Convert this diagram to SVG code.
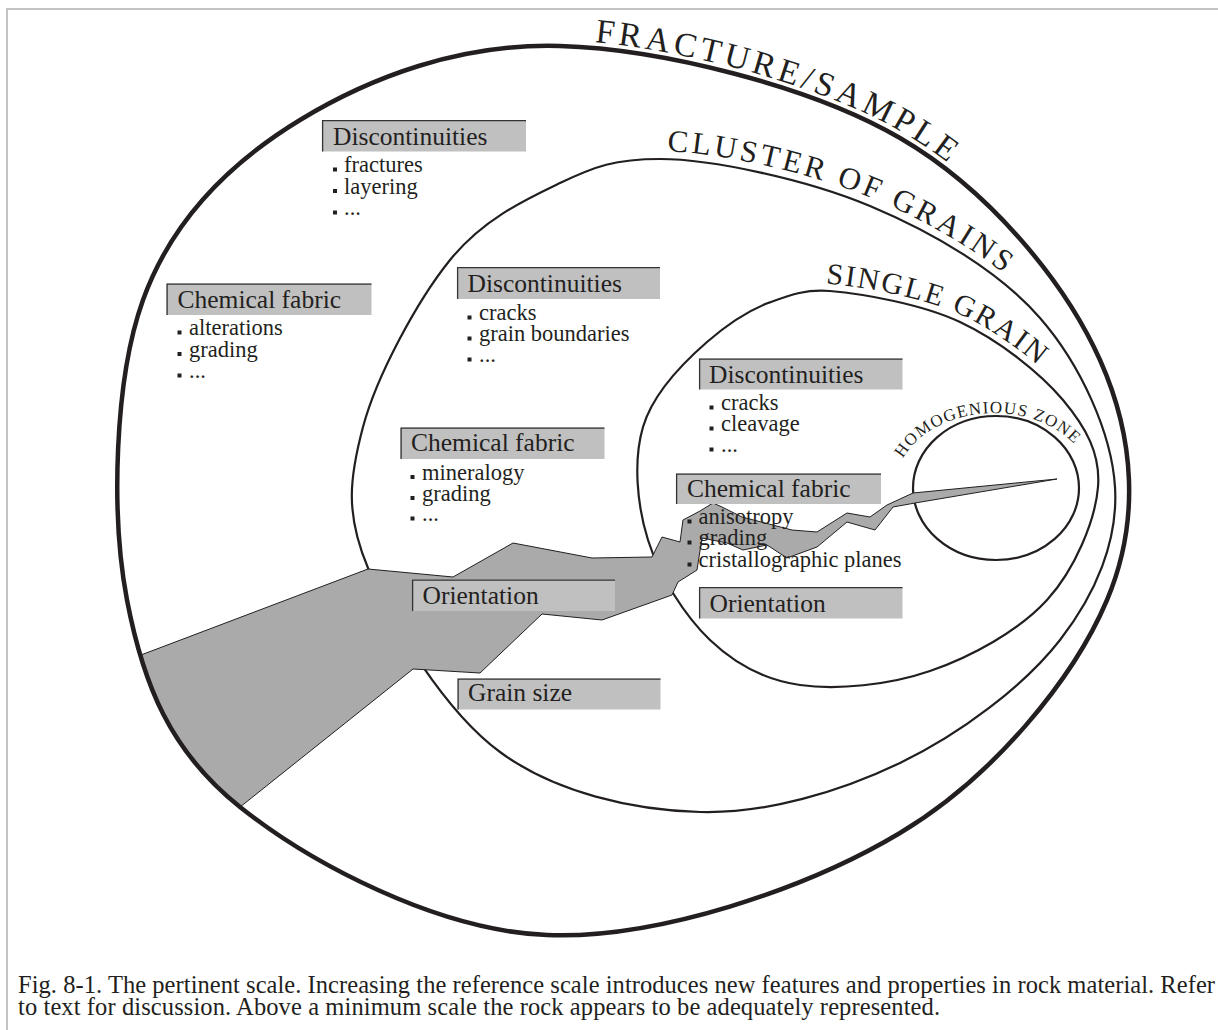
<svg xmlns="http://www.w3.org/2000/svg" width="1218" height="1030" viewBox="0 0 1218 1030">
<style>
text{font-family:"Liberation Serif","Times New Roman",serif;fill:#231f20}
.h{font-size:25.5px}
.i{font-size:22.5px}
.cap{font-size:24.5px}
.ring{fill:none;stroke:#231f20;stroke-width:2.2}
.outer{fill:none;stroke:#231f20;stroke-width:4.5}
.box{fill:#c0c0c0}
.edge{fill:none;stroke:#333;stroke-width:1.3}
.b{fill:#231f20}
.crack{fill:#aaaaaa;stroke:#231f20;stroke-width:1}
</style>
<defs>
<path id="outerPath" d="M560,46 C660,49 810,85.7 900,138 C990,190.3 1065.5,283 1100,360 C1134.5,437 1140.3,521.2 1107,600 C1073.7,678.8 993.3,777.2 900,833 C806.7,888.8 657,939.3 547,935 C437,930.7 310,862.8 240,807 C170,751.2 143.2,684.5 127,600 C110.8,515.5 114.2,380 143,300 C171.8,220 230.5,162.3 300,120 C369.5,77.7 460,43 560,46 Z"/>
<clipPath id="insideOuter"><use href="#outerPath"/></clipPath>
<path id="tpOuter" d="M560,40 C660,43 813,80.5 903,132.8 C993,185.1 1071.5,280 1106,357"/>
<path id="tpCluster" d="M660,151 C711.7,151 809.8,172.1 873.1,198.6 C936.4,225.1 1005.2,265.9 1046,312.7 C1086.8,359.5 1119.7,432.8 1123,486.5"/>
<path id="tpSingle" d="M762.4,298.5 C782.9,290.3 798.1,281.2 830.6,284 C863.1,286.8 924.2,297.5 963,315.7 C1001.8,333.9 1045.4,368 1068.4,395.5 C1091.4,423 1107.7,454.3 1105,487.6"/>
<path id="tpHomog" d="M894,490 A100,77 0 0 1 1094,490"/>
</defs>

<rect width="1218" height="1030" fill="#ffffff"/>
<path d="M7,1030 V9 H1218" fill="none" stroke="#c4c4c4" stroke-width="2"/>

<g id="cluster-of-grains">
<path class="ring" d="M660,159 C711.7,159 806.7,179.5 870,206 C933.3,232.5 999.2,271.2 1040,318 C1080.8,364.8 1111.7,433.3 1115,487 C1118.3,540.7 1095.8,594 1060,640 C1024.2,686 960,734.3 900,763 C840,791.7 766.7,813.8 700,812 C633.3,810.2 555.3,792.7 500,752 C444.7,711.3 390.8,622.2 368,568 C345.2,513.8 349.3,478.3 363,427 C376.7,375.7 417.2,300.7 450,260 C482.8,219.3 525,199.8 560,183 C595,166.2 615,159 660,159 Z"/>
<text style="font-size:31px;letter-spacing:3.4px"><textPath href="#tpCluster" startOffset="7">CLUSTER OF GRAINS</textPath></text>
</g>

<g id="single-grain">
<path class="ring" d="M830,291 C862.5,293.8 921.2,303.8 960,322 C998.8,340.2 1040,372.5 1063,400 C1086,427.5 1100.7,453.7 1098,487 C1095.3,520.3 1075,569.3 1047,600 C1019,630.7 971.2,656.8 930,671 C888.8,685.2 836.7,690.2 800,685 C763.3,679.8 735.3,664.2 710,640 C684.7,615.8 659.2,575.5 648,540 C636.8,504.5 633.2,460.3 643,427 C652.8,393.7 684,362 707,342 C730,322 750,310 768,303 C790,295 805,289 830,291 Z"/>
<text style="font-size:30px;letter-spacing:2px"><textPath href="#tpSingle" startOffset="66">SINGLE GRAIN</textPath></text>
</g>

<g id="homogenious-zone">
<ellipse class="ring" cx="996" cy="488" rx="83" ry="72"/>
<text style="font-size:17px;letter-spacing:1.2px"><textPath href="#tpHomog" startOffset="33">HOMOGENIOUS ZONE</textPath></text>
</g>

<g id="connectors">
<polygon class="crack" clip-path="url(#insideOuter)" points="100,670.5 368,569 453,577 513,543 592,558 652,557 662,537 680,542 683,520 700,511 713,503 722,507 742,517 792,530 817,532 847,513 870,517 887,505 913,493 1057,479 915,503 893,507 875,530 847,522 817,547 787,558 767,545 743,550 727,543 702,538 697,570 678,582 672,595 602,620 542,614 480,673 413,669 200,839"/>
</g>

<g id="fracture-sample">
<use href="#outerPath" class="outer"/>
<text style="font-size:34px;letter-spacing:4px"><textPath href="#tpOuter" startOffset="35">FRACTURE/SAMPLE</textPath></text>
</g>

<g id="outer-discontinuities">
<rect class="box" x="322" y="120" width="204" height="31.5"/>
<path class="edge" d="M322.6,151.5 V120.6 H526"/>
<text class="h" x="333" y="145">Discontinuities</text>
<rect class="b" x="333" y="167.5" width="4" height="4"/><text class="i" x="344" y="172">fractures</text>
<rect class="b" x="333" y="189" width="4" height="4"/><text class="i" x="344" y="193.5">layering</text>
<rect class="b" x="333" y="210.5" width="4" height="4"/><text class="i" x="344" y="215">...</text>
</g>

<g id="outer-chemical-fabric">
<rect class="box" x="166.5" y="283.5" width="205" height="31.5"/>
<path class="edge" d="M167.1,315 V284.1 H371.5"/>
<text class="h" x="177.5" y="307.5">Chemical fabric</text>
<rect class="b" x="177.5" y="330.5" width="4" height="4"/><text class="i" x="189" y="335">alterations</text>
<rect class="b" x="177.5" y="352" width="4" height="4"/><text class="i" x="189" y="356.5">grading</text>
<rect class="b" x="177.5" y="373.5" width="4" height="4"/><text class="i" x="189" y="378">...</text>
</g>

<g id="cluster-discontinuities">
<rect class="box" x="457" y="267" width="203" height="32"/>
<path class="edge" d="M457.6,299 V267.6 H660"/>
<text class="h" x="467.5" y="292.3">Discontinuities</text>
<rect class="b" x="467.5" y="315.5" width="4" height="4"/><text class="i" x="479" y="320">cracks</text>
<rect class="b" x="467.5" y="336.5" width="4" height="4"/><text class="i" x="479" y="341">grain boundaries</text>
<rect class="b" x="467.5" y="357.5" width="4" height="4"/><text class="i" x="479" y="362">...</text>
</g>

<g id="cluster-chemical-fabric">
<rect class="box" x="400.5" y="427.5" width="204" height="31.5"/>
<path class="edge" d="M401.1,459 V428.1 H604.5"/>
<text class="h" x="411" y="451">Chemical fabric</text>
<rect class="b" x="410.5" y="475" width="4" height="4"/><text class="i" x="422" y="479.5">mineralogy</text>
<rect class="b" x="410.5" y="496" width="4" height="4"/><text class="i" x="422" y="500.5">grading</text>
<rect class="b" x="410.5" y="516.5" width="4" height="4"/><text class="i" x="422" y="521">...</text>
</g>

<g id="cluster-orientation">
<rect class="box" x="412" y="579.5" width="203" height="31.5"/>
<path class="edge" d="M412.6,611 V580.1 H615"/>
<text class="h" x="422.5" y="603.5">Orientation</text>
</g>

<g id="cluster-grain-size">
<rect class="box" x="457.5" y="678.5" width="203" height="31"/>
<path class="edge" d="M458.1,709.5 V679.1 H660.5"/>
<text class="h" x="468" y="701">Grain size</text>
</g>

<g id="single-discontinuities">
<rect class="box" x="699" y="358.5" width="203.5" height="31"/>
<path class="edge" d="M699.6,389.5 V359.1 H902.5"/>
<text class="h" x="709" y="383">Discontinuities</text>
<rect class="b" x="709.5" y="405.5" width="4" height="4"/><text class="i" x="721" y="410">cracks</text>
<rect class="b" x="709.5" y="426.5" width="4" height="4"/><text class="i" x="721" y="431">cleavage</text>
<rect class="b" x="709.5" y="447.5" width="4" height="4"/><text class="i" x="721" y="452">...</text>
</g>

<g id="single-chemical-fabric">
<rect class="box" x="676" y="473.5" width="205" height="30.5"/>
<path class="edge" d="M676.6,504 V474.1 H881"/>
<text class="h" x="687" y="497">Chemical fabric</text>
<rect class="b" x="687.5" y="519.5" width="4" height="4"/><text class="i" x="698.5" y="524">anisotropy</text>
<rect class="b" x="687.5" y="540.5" width="4" height="4"/><text class="i" x="698.5" y="545">grading</text>
<rect class="b" x="687.5" y="562.5" width="4" height="4"/><text class="i" x="698.5" y="567">cristallographic planes</text>
</g>

<g id="single-orientation">
<rect class="box" x="699" y="587" width="203.5" height="31.5"/>
<path class="edge" d="M699.6,618.5 V587.6 H902.5"/>
<text class="h" x="709.5" y="612">Orientation</text>
</g>

<g id="caption">
<text class="cap" x="18" y="993" textLength="1197" lengthAdjust="spacing">Fig. 8-1. The pertinent scale. Increasing the reference scale introduces new features and properties in rock material. Refer</text>
<text class="cap" x="18" y="1015" textLength="922" lengthAdjust="spacing">to text for discussion. Above a minimum scale the rock appears to be adequately represented.</text>
</g>
</svg>
